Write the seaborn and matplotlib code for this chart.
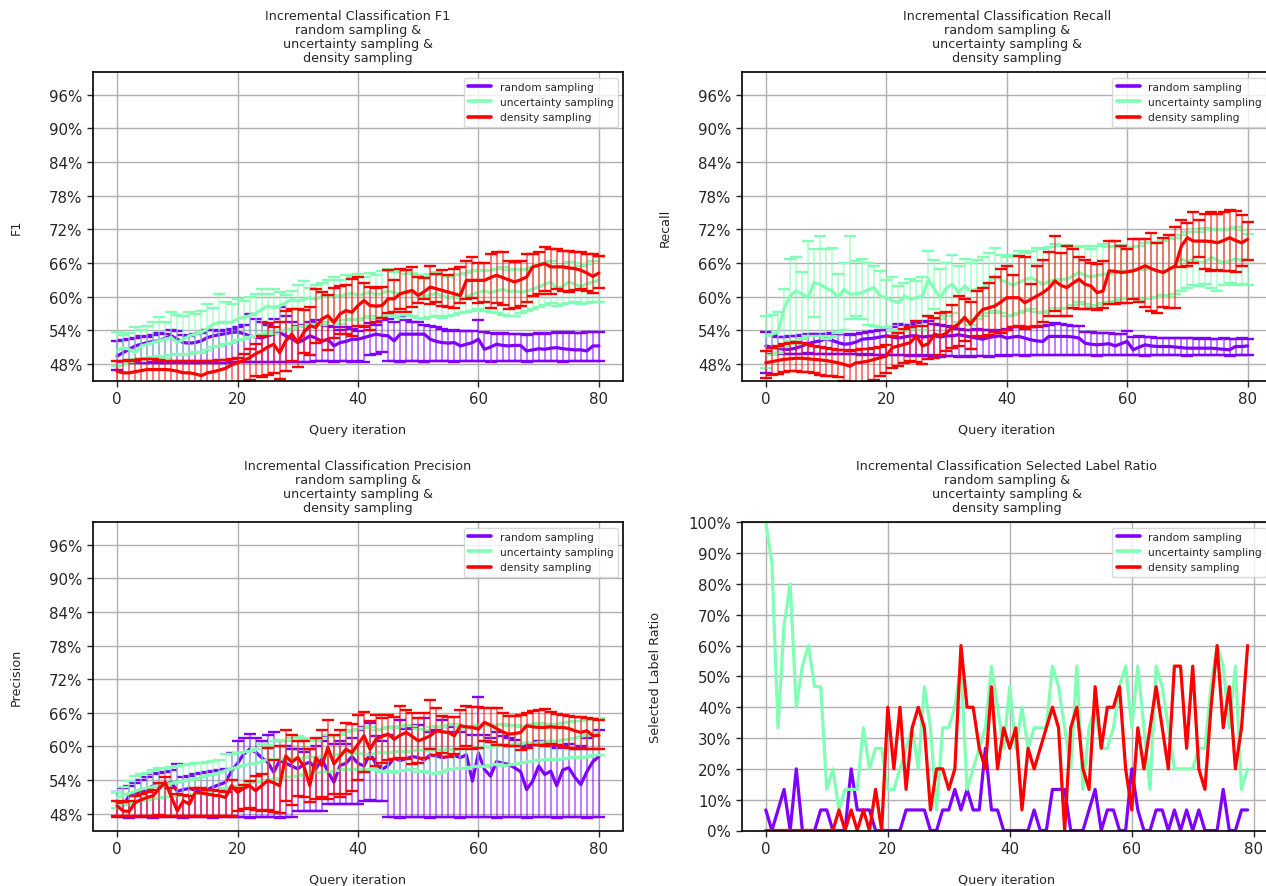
import numpy as np
import pandas as pd
import matplotlib
matplotlib.use("Agg")
import matplotlib.pyplot as plt
from matplotlib.ticker import PercentFormatter, MultipleLocator, FixedLocator
import seaborn as sns

# ---------------------------------------------------------------- data
strategies = ["random sampling", "uncertainty sampling", "density sampling"]
iterations = list(range(81))

# F1 score per query iteration (percent): mean, min, max over runs
f1_random_mean = [49.4,50.0,50.6,51.2,51.5,51.8,52.0,52.1,52.6,53.0,52.4,51.8,51.7,51.8,52.1,52.7,53.0,53.2,53.4,53.6,53.7,
                  53.4,53.0,52.8,52.6,53.0,53.3,53.6,53.0,52.5,51.8,52.3,53.0,52.6,52.0,52.4,51.2,51.8,52.0,52.4,52.4,
                  52.7,53.0,53.3,53.1,53.0,52.1,53.3,53.3,53.3,53.3,53.3,52.4,52.0,51.8,51.7,51.8,51.2,51.5,51.8,52.4,
                  50.6,51.0,51.5,51.3,51.2,51.3,51.3,50.3,50.5,50.7,50.6,50.8,50.9,50.7,50.6,50.5,50.5,50.3,51.2,51.2]
f1_random_lo = [46.9,48.2,48.2,48.3,48.2,48.2,48.3,48.2,48.2,48.2,48.3,48.2,48.2,48.2,48.2,48.3,48.2,48.2,48.2,48.3,48.3,
                48.3,48.4,48.3,48.4,48.3,48.4,48.4,48.3,48.4,48.4,48.4,48.4,48.5,48.5,48.5,48.4,48.5,48.5,48.4,48.5,
                48.4,49.6,49.8,50.1,48.5,48.5,48.4,48.5,48.5,48.5,48.4,48.5,48.5,48.5,48.5,48.4,48.5,48.5,48.5,48.5,
                48.5,48.4,48.5,48.5,48.5,48.5,48.5,48.4,48.5,48.5,48.5,48.5,48.5,48.4,48.5,48.5,48.5,48.5,48.5,48.5]
f1_random_hi = [52.0,52.2,52.5,52.7,53.0,52.8,53.2,53.5,53.4,54.1,53.8,53.2,53.0,53.3,53.5,54.0,54.0,53.9,54.0,54.2,54.5,
                55.0,56.9,56.0,55.5,55.0,56.0,58.2,56.5,55.5,54.8,55.0,55.5,55.8,55.0,54.8,54.5,54.0,54.5,54.2,53.9,
                54.5,55.3,55.0,55.8,56.0,55.5,56.5,55.8,55.4,55.4,55.0,54.8,54.5,54.2,53.9,54.0,53.9,53.8,53.9,55.9,
                53.6,53.5,53.4,53.5,53.3,53.4,53.3,53.2,53.4,53.5,53.4,53.5,53.6,53.5,53.6,53.5,53.5,53.6,53.7,53.7]

f1_uncert_mean = [50.3,50.9,50.6,50.0,51.2,51.5,51.8,52.1,52.4,52.7,51.8,52.4,53.0,53.3,53.6,54.3,55.1,55.4,55.4,55.4,56.0,
                  56.3,56.6,57.0,57.7,58.3,58.0,58.3,58.9,59.5,59.2,59.5,59.8,59.5,60.1,59.9,60.3,60.0,60.4,60.6,60.2,
                  60.5,60.8,60.3,60.6,61.0,60.7,60.4,60.9,60.6,60.3,60.0,60.3,60.6,60.1,59.8,60.0,59.7,60.0,60.4,60.8,
                  61.0,60.7,61.0,61.3,60.9,61.0,60.8,61.0,61.3,61.7,62.2,62.6,61.4,61.8,62.6,62.2,61.8,62.3,62.6,62.9]
f1_uncert_lo = [47.6,48.0,48.3,48.8,48.5,49.0,49.2,49.4,49.0,49.5,49.8,49.5,49.8,50.2,50.0,50.5,51.0,51.2,51.5,51.8,52.3,
                52.5,52.8,53.0,53.3,53.6,53.4,53.8,54.0,54.3,54.6,54.8,55.0,55.2,55.0,55.4,55.6,55.2,55.8,56.0,55.8,
                56.2,56.5,56.0,56.4,56.8,56.5,56.2,56.8,56.5,56.2,56.0,56.3,56.5,56.2,56.6,56.8,57.0,57.3,57.5,57.8,
                57.5,57.2,57.0,56.8,56.6,56.6,57.0,57.4,57.8,58.2,58.5,58.8,58.4,58.6,58.8,59.0,58.7,58.9,59.0,59.1]
f1_uncert_hi = [53.6,53.2,53.5,54.5,54.0,54.8,55.5,56.3,55.5,57.2,56.8,56.5,57.2,56.9,57.5,58.6,58.0,60.4,59.0,58.6,59.5,
                59.3,60.0,60.5,61.3,60.5,61.3,60.8,60.2,61.0,62.0,62.8,61.5,62.0,62.5,63.0,63.5,63.0,63.8,63.5,64.0,
                63.5,64.2,63.8,64.5,64.9,64.3,64.6,64.0,64.2,63.8,63.5,64.0,64.3,63.8,63.5,63.8,64.0,64.2,64.5,64.8,
                64.5,64.8,65.0,65.2,64.8,65.0,64.7,65.0,65.3,65.8,66.0,66.4,65.2,65.5,66.2,66.0,65.5,65.9,66.3,67.0]

f1_density_mean = [46.7,46.4,46.4,46.6,46.8,47.0,47.0,47.0,47.0,46.9,46.7,46.4,46.4,46.2,45.9,46.4,46.6,46.9,47.2,47.8,48.2,
                   48.6,49.1,49.8,50.3,51.0,51.5,50.0,52.1,53.3,51.8,53.6,54.8,54.5,56.0,56.6,55.4,56.9,57.5,57.2,58.4,
                   59.3,58.4,58.3,58.4,59.6,59.6,60.5,60.8,61.1,60.2,60.9,61.7,61.4,61.1,60.8,60.5,60.2,62.9,62.9,62.9,
                   62.9,63.4,63.8,63.4,63.0,62.6,63.0,63.5,65.3,65.6,65.9,65.3,65.3,65.3,65.1,65.0,64.7,64.2,63.6,64.2]
f1_density_lo = [43.5,43.0,43.2,43.5,43.8,44.0,43.8,43.5,43.6,43.5,43.2,43.0,43.0,42.8,42.5,43.0,43.2,43.5,43.8,44.2,44.5,
                 44.8,45.2,45.8,45.6,46.0,46.4,45.3,46.8,48.5,47.4,50.0,49.6,51.8,52.3,50.4,52.6,53.3,53.4,52.9,54.8,
                 54.8,54.0,55.4,56.1,57.0,57.3,57.7,57.2,58.2,58.8,59.5,58.6,59.0,58.3,58.1,58.0,58.8,59.5,59.8,58.9,
                 59.0,58.0,58.9,58.5,57.7,58.0,58.3,59.0,60.1,60.5,61.0,60.5,61.3,61.0,60.8,61.2,61.3,61.0,60.7,61.6]
f1_density_hi = [48.6,48.6,48.7,48.6,48.8,48.9,48.8,48.7,48.6,48.6,48.6,48.5,48.6,48.6,48.5,48.6,48.6,48.7,48.7,48.8,49.0,
                 49.8,50.6,51.6,53.0,55.3,54.5,55.5,57.5,57.8,57.8,57.6,58.2,61.3,60.8,60.2,61.5,61.8,62.0,63.2,63.5,
                 62.5,61.7,61.5,61.7,64.7,63.0,64.9,64.7,65.3,63.5,63.3,65.5,64.0,64.7,63.8,65.0,65.3,66.4,67.0,66.0,
                 66.0,67.6,67.9,68.0,66.4,66.1,66.4,67.6,67.6,67.9,68.8,68.5,68.5,68.2,68.2,67.9,67.9,67.6,67.6,67.3]

# Recall per query iteration (percent)
rec_random_mean = [51.2,51.0,50.8,50.6,50.6,50.8,51.2,51.6,51.9,52.1,52.5,52.2,51.8,51.5,51.6,51.9,52.4,52.5,52.6,52.8,53.0,
                   52.8,52.6,52.8,53.0,53.0,52.8,52.9,53.0,52.8,53.0,53.0,53.2,53.0,52.8,52.6,52.4,52.7,52.9,53.0,52.6,
                   52.8,52.9,52.6,52.3,52.1,52.0,52.9,52.9,52.9,52.9,52.8,52.6,51.7,51.5,51.4,51.5,51.6,51.2,51.6,52.0,
                   50.5,51.0,51.4,51.2,51.1,51.1,51.1,51.0,50.9,50.8,50.8,50.8,50.8,50.8,50.7,50.6,50.5,51.1,51.1,51.2]
rec_random_lo = [46.4,49.8,49.9,49.8,49.7,49.8,49.8,49.9,49.8,49.7,49.8,49.8,49.7,49.8,49.8,49.7,49.6,49.7,49.6,49.6,49.5,
                 49.5,49.6,49.5,49.4,49.5,49.4,49.5,49.4,49.3,49.4,49.4,49.3,49.4,49.3,49.4,49.4,49.3,49.4,49.5,49.4,
                 49.5,49.5,49.4,49.5,49.5,49.6,49.5,49.5,49.5,49.6,49.5,49.5,49.5,49.5,49.4,49.5,49.5,49.5,49.5,49.5,
                 49.5,49.5,49.4,49.5,49.5,49.5,49.5,49.5,49.5,49.4,49.5,49.5,49.5,49.5,49.5,49.5,49.4,49.5,49.5,49.5]
rec_random_hi = [53.6,53.2,52.8,52.8,52.9,53.0,53.1,53.3,53.3,53.4,53.3,53.5,53.4,53.3,53.2,53.3,53.5,53.6,53.8,54.0,54.0,
                 54.5,55.1,55.0,55.0,55.3,55.4,55.7,55.2,55.0,54.8,54.5,54.3,54.0,54.0,54.2,54.0,54.0,53.8,54.0,54.2,
                 54.5,54.5,54.6,54.5,54.6,54.8,55.0,55.3,55.1,55.0,54.7,54.7,53.6,53.6,53.5,53.5,53.5,53.4,53.4,53.8,
                 52.8,52.9,52.8,52.8,52.7,52.7,52.6,52.6,52.7,52.6,52.6,52.5,52.6,52.5,52.5,52.6,52.5,52.5,52.6,52.5]

rec_uncert_mean = [53.0,53.3,53.6,57.7,60.1,61.0,60.5,59.8,62.5,62.2,61.5,61.0,59.9,61.3,60.4,60.5,60.7,61.2,61.6,60.1,59.8,
                   59.3,58.9,60.1,59.5,59.8,60.1,63.1,61.3,59.8,61.6,62.2,60.7,61.9,61.0,61.3,61.5,62.5,63.7,63.0,62.5,
                   62.0,62.5,63.0,63.4,62.8,62.2,62.7,63.0,63.1,63.1,63.7,64.3,63.8,63.5,63.8,64.0,64.0,64.3,64.6,64.6,
                   64.6,64.8,64.9,64.9,64.6,64.3,64.8,65.5,66.7,66.2,66.7,66.0,66.3,67.0,66.5,66.0,66.4,66.7,66.5,66.7]
rec_uncert_lo = [47.3,49.5,50.0,51.0,52.1,51.5,52.5,53.0,56.3,53.0,52.5,52.8,53.5,54.0,56.0,56.6,56.0,55.0,54.8,54.5,54.5,
                 54.0,53.5,53.8,54.2,54.5,54.0,56.5,57.8,56.0,56.5,57.0,55.5,55.8,55.0,56.0,56.5,57.0,57.5,57.0,56.5,
                 56.8,57.0,57.5,57.8,57.2,57.0,57.5,58.0,57.8,58.0,58.5,59.0,58.6,58.2,58.5,58.8,59.0,59.2,59.5,59.8,
                 59.5,59.2,59.5,59.8,60.0,60.2,60.0,60.5,61.0,61.5,62.0,61.8,62.2,61.5,61.0,62.0,62.5,62.0,62.3,62.0]
rec_uncert_hi = [56.6,56.8,57.2,61.3,66.7,67.0,64.3,69.9,68.5,70.8,68.4,68.7,64.0,66.0,70.8,66.4,66.7,66.0,65.5,64.5,63.0,
                 63.5,61.9,62.5,63.1,62.8,63.5,68.1,66.5,65.0,66.0,67.5,65.5,66.7,66.0,66.5,67.0,67.8,68.7,67.5,67.0,
                 67.5,68.1,67.8,68.2,68.7,68.5,68.8,69.4,69.0,69.2,69.0,68.8,69.1,68.5,69.0,69.3,68.8,69.0,69.2,68.8,
                 68.8,69.0,69.5,69.8,69.5,70.0,70.2,70.5,71.0,71.5,72.0,71.5,72.3,71.8,72.1,71.8,72.1,72.4,71.8,71.2]

rec_density_mean = [48.2,48.4,48.6,48.8,48.9,49.0,49.0,48.9,48.8,48.7,48.6,48.4,48.2,47.9,47.6,48.2,48.3,48.5,48.8,49.1,49.4,
                    50.9,51.2,51.5,51.8,53.0,51.2,51.6,53.3,53.0,53.5,54.5,55.1,56.3,55.1,56.5,57.7,58.0,58.3,59.0,59.8,
                    59.8,59.8,58.9,59.5,60.1,60.7,61.5,62.8,62.0,61.6,62.4,63.1,62.2,61.9,60.7,61.0,64.6,64.5,64.3,64.4,
                    64.6,65.0,65.5,65.0,64.6,64.3,64.9,65.5,69.0,70.5,69.9,69.9,69.9,69.8,69.6,70.0,70.5,70.0,69.6,70.2]
rec_density_lo = [45.5,46.0,46.2,46.5,46.7,46.8,46.6,46.5,46.3,46.0,45.8,45.9,45.6,45.0,44.8,44.5,44.6,44.8,45.2,45.8,46.4,
                  47.3,47.6,48.2,48.5,48.4,47.9,48.8,49.0,49.5,50.3,50.8,51.2,52.1,50.6,53.0,52.8,53.2,53.6,53.5,54.1,
                  54.5,54.7,54.3,54.6,54.8,55.5,56.5,57.4,56.5,56.5,58.0,57.8,57.8,57.7,57.6,57.9,58.6,58.6,58.9,58.9,
                  59.6,59.0,58.2,57.5,57.1,58.2,58.0,58.0,65.2,65.5,66.0,67.0,64.9,64.6,64.8,64.6,64.6,64.3,65.5,66.5]
rec_density_hi = [50.3,50.8,51.2,51.5,51.8,51.9,51.8,51.5,51.2,51.0,50.8,50.6,50.5,50.4,50.3,50.5,50.6,50.7,50.8,51.0,51.3,
                  53.0,53.5,54.2,54.5,55.7,54.8,56.6,56.2,57.0,57.2,58.5,60.1,59.5,59.0,61.0,61.5,62.5,63.5,64.9,65.5,
                  63.8,67.3,67.0,62.2,65.4,66.5,68.0,70.8,67.8,69.0,68.4,67.0,66.5,66.0,65.8,66.4,69.9,70.0,69.0,68.5,
                  70.3,70.2,70.3,71.4,69.5,70.5,71.0,72.4,73.7,73.2,75.0,73.6,74.8,75.0,74.7,75.0,75.4,75.3,74.6,73.3]

# Precision per query iteration (percent)
prec_random_mean = [50.0,49.5,51.2,51.8,52.1,52.4,53.0,52.8,53.2,53.6,52.0,52.3,52.5,52.2,52.0,52.3,52.8,53.2,53.6,55.6,57.0,
                    58.6,59.5,59.0,58.0,57.2,55.4,57.5,57.0,56.5,56.0,56.8,57.2,56.0,57.8,55.5,53.6,56.6,57.0,58.2,57.0,
                    56.5,58.8,56.8,55.9,56.6,57.9,57.5,57.8,58.2,58.0,57.6,58.5,58.3,58.0,58.2,58.4,58.0,58.5,53.8,58.8,
                    55.9,54.7,57.3,57.0,56.8,56.2,55.5,52.3,53.8,56.5,55.0,55.6,53.0,55.8,56.2,54.5,53.2,55.5,57.3,58.2]
prec_random_lo = [47.4,47.4,47.3,47.4,47.4,47.4,47.3,47.4,47.4,47.4,47.4,47.3,47.4,47.4,47.4,47.4,47.3,47.4,47.4,47.4,47.4,
                  47.4,47.3,47.4,47.4,47.4,47.4,47.3,47.4,47.4,48.5,48.5,48.4,48.5,48.5,49.8,49.8,49.7,49.8,49.8,49.8,
                  50.3,50.4,50.2,50.3,47.4,47.4,47.3,47.4,47.4,47.4,47.4,47.3,47.4,47.4,47.4,47.4,47.3,47.4,47.4,47.4,
                  47.4,47.4,47.3,47.4,47.4,47.4,47.4,47.3,47.4,47.4,47.4,47.4,47.3,47.4,47.4,47.4,47.4,47.3,47.4,47.4]
prec_random_hi = [51.8,52.5,53.0,53.5,54.0,54.5,55.0,55.3,55.5,55.8,56.9,54.5,54.8,55.0,55.2,55.4,55.6,55.8,56.0,58.9,61.0,
                  61.5,62.2,61.5,61.0,62.0,62.5,61.0,60.0,59.5,59.5,59.0,59.5,60.0,61.0,61.9,60.5,61.0,60.5,61.5,63.0,
                  63.5,64.2,61.8,61.0,62.0,63.5,64.8,63.2,63.5,63.8,65.1,62.5,63.0,64.8,63.5,62.5,62.5,63.5,62.0,68.8,
                  62.0,61.5,62.5,61.8,61.5,61.2,60.5,60.0,60.5,61.0,60.5,60.0,59.8,60.2,60.5,59.5,60.0,61.5,62.0,63.0]

prec_uncert_mean = [50.9,51.3,51.6,52.0,52.4,52.6,52.8,53.0,53.2,53.4,53.6,53.8,54.0,54.2,54.5,54.8,55.0,55.3,55.7,56.0,56.3,
                    56.6,56.8,57.0,57.3,57.7,57.6,57.8,57.7,58.0,57.8,58.0,58.2,58.0,58.2,58.3,58.5,58.6,58.9,58.7,58.8,
                    58.6,58.5,58.8,59.0,58.8,59.0,59.2,59.0,59.2,59.4,59.3,59.2,59.5,59.3,59.5,59.4,59.6,59.5,59.7,59.7,
                    60.0,59.8,60.1,60.3,60.2,60.5,60.4,60.7,60.5,60.7,60.8,61.0,60.9,61.2,61.3,61.5,61.8,62.0,62.2,62.5]
prec_uncert_lo = [49.1,49.5,49.8,50.0,50.3,50.5,50.6,50.8,50.9,51.0,51.1,51.2,51.3,51.5,51.6,51.8,52.0,52.2,52.5,52.8,53.0,
                  53.2,53.4,53.6,53.8,54.0,54.2,54.3,54.5,54.6,54.8,55.0,55.2,55.3,55.5,55.4,55.6,55.8,56.0,55.8,56.0,
                  55.8,56.0,55.8,55.5,55.6,55.3,55.6,55.8,55.9,55.5,55.6,55.3,55.0,55.4,55.8,56.0,56.2,56.0,56.3,56.5,
                  56.4,56.6,56.8,56.5,56.7,56.9,57.0,57.2,57.4,57.5,57.6,57.8,57.5,57.7,58.0,58.2,58.0,58.2,58.4,58.4]
prec_uncert_hi = [51.8,52.8,53.8,54.7,55.0,55.3,55.8,56.2,56.0,56.3,56.5,56.7,56.8,57.0,57.1,57.2,57.4,57.5,58.6,58.7,58.8,
                  59.0,59.2,59.5,60.4,60.2,61.0,61.2,61.0,61.5,61.8,61.5,61.3,61.0,61.5,62.0,61.8,62.0,62.5,63.0,63.2,
                  63.3,63.5,63.0,63.2,63.5,63.3,63.5,63.8,63.6,63.2,63.0,63.4,63.6,63.5,63.8,64.0,63.5,63.2,63.5,63.8,
                  64.0,63.6,63.8,64.0,63.6,63.8,63.5,63.7,64.0,64.2,64.0,63.8,64.0,64.2,64.3,64.5,64.6,64.8,65.0,65.1]

prec_density_mean = [49.4,48.5,48.4,50.0,50.5,50.9,51.2,52.5,53.6,51.0,48.5,50.3,49.7,51.8,51.7,51.5,51.3,51.2,50.9,53.0,51.8,
                     52.5,53.0,52.1,53.0,53.9,53.5,53.0,58.3,57.2,58.0,56.5,53.0,58.0,56.6,59.8,56.9,58.2,59.5,58.9,60.4,
                     61.9,59.5,61.3,61.8,62.2,61.3,62.0,62.5,61.8,61.0,61.4,61.9,62.8,62.6,62.5,61.9,63.7,63.5,63.4,63.1,
                     64.3,63.8,63.2,62.6,62.2,62.3,62.5,63.7,63.5,63.4,63.4,63.5,63.4,63.4,63.2,62.8,62.5,62.8,61.9,62.0]
prec_density_lo = [47.6,47.5,47.6,47.6,47.5,47.6,47.6,47.7,47.6,47.5,47.5,47.5,47.5,47.5,47.6,47.6,47.6,47.5,47.5,47.6,48.5,
                   48.8,49.0,48.6,48.5,48.7,48.3,48.2,50.3,49.5,51.2,50.9,50.0,50.6,51.0,50.6,51.5,51.0,51.5,52.0,54.1,
                   55.4,57.7,56.5,57.0,57.5,57.7,58.0,57.7,56.8,57.0,58.0,59.5,58.4,58.8,58.2,58.6,59.5,60.0,59.5,59.8,
                   60.9,60.8,60.2,60.3,60.0,60.0,59.4,59.8,60.2,60.3,60.0,60.5,60.3,59.9,59.8,59.6,59.8,59.6,59.5,59.6]
prec_density_hi = [50.3,50.0,50.3,51.2,51.5,51.8,52.2,53.5,54.5,52.5,51.5,51.3,51.2,52.5,52.5,52.3,52.2,52.0,51.8,54.0,52.6,
                   53.2,53.8,54.7,55.1,59.8,57.5,60.0,63.0,62.0,61.0,61.0,59.5,61.5,63.0,64.8,62.0,63.0,64.2,64.0,65.7,
                   66.2,64.5,65.6,65.0,65.6,65.2,67.2,66.5,66.0,65.1,66.0,68.2,66.8,65.4,65.2,65.2,66.5,67.2,67.0,67.0,
                   66.8,66.8,66.9,66.0,65.4,65.5,65.6,66.0,66.4,66.5,66.6,66.2,65.8,65.6,65.4,65.2,65.2,65.1,64.9,64.8]

# Selected label ratio: positive labels picked out of each batch of 15 queries
batch_size = 15
ratio_iterations = list(range(80))
sel_random = [1,0,1,2,0,3,0,0,0,1, 1,0,0,0,3,1,1,1,0,0, 0,0,0,1,1,1,1,0,0,1, 1,2,1,2,1,1,4,1,1,0,
              0,0,0,0,1,0,0,2,2,2, 0,0,0,1,2,0,1,1,0,0, 3,1,0,0,1,1,0,1,0,1, 0,1,0,0,0,2,0,0,1,1]
sel_uncert = [15,13,5,10,12,6,8,9,7,7, 2,3,1,2,2,2,5,3,4,4, 2,2,3,4,5,3,7,5,1,5, 5,6,8,2,3,4,5,8,6,4,
              7,4,6,4,5,5,5,8,7,5, 3,8,2,5,6,4,4,5,7,8, 5,8,5,2,8,7,5,3,3,3, 3,4,4,7,9,8,5,8,2,3]
sel_density = [0,0,0,0,0,0,0,0,0,0, 0,0,1,0,1,0,1,0,2,0, 6,3,6,2,5,6,5,1,3,3, 2,3,9,6,6,4,3,7,3,5,
               4,5,1,4,3,4,5,6,5,0, 5,6,3,2,7,4,6,6,7,3, 1,5,3,5,7,5,3,8,8,4, 8,3,2,6,9,5,7,3,5,9]

# ---------------------------------------------------------------- style
colors = [tuple(c) for c in plt.cm.rainbow(np.linspace(0, 1, 3))]
sns.set_style("ticks")
plt.rcParams["font.family"] = ["DejaVu Sans"]

W, H = 1266, 887
fig = plt.figure(figsize=(W / 100, H / 100), dpi=100)


def axes_at(left, top, width, height):
    return fig.add_axes([left / W, 1 - (top + height) / H, width / W, height / H])


ax_f1 = axes_at(93, 73.3, 530, 308.4)
ax_rec = axes_at(741.7, 73.3, 530, 308.4)
ax_prec = axes_at(93, 523.3, 530, 308.2)
ax_ratio = axes_at(741.7, 523.3, 530, 308.2)

subtitle = "\nrandom sampling &\nuncertainty sampling &\ndensity sampling"


def finish(ax, title, ylabel):
    ax.set_title("Incremental Classification " + title + subtitle, fontsize=9.2,
                 linespacing=1.1, pad=8.2)
    ax.set_xlabel("Query iteration", fontsize=9.2, labelpad=12)
    ax.set_ylabel(ylabel, fontsize=9.2, labelpad=19)
    ax.grid(True, color="#b0b0b0", linewidth=1.0)
    ax.set_axisbelow(True)
    ax.tick_params(axis="both", labelsize=10.8, direction="out", length=4, width=1)
    ax.xaxis.set_major_locator(MultipleLocator(20))
    for sp in ax.spines.values():
        sp.set_visible(True)
        sp.set_color("black")
        sp.set_linewidth(1.2)
    leg = ax.legend(loc="upper right", fontsize=7.65, framealpha=0.8, edgecolor="#d0d0d0",
                    fancybox=True, handlelength=2.2)
    for h in leg.get_lines():
        h.set_linewidth(2.6)


def metric_panel(ax, title, ylabel, series):
    for name, color, (mean, lo, hi) in zip(strategies, colors, series):
        m = np.asarray(mean) / 100
        l = np.asarray(lo) / 100
        h = np.asarray(hi) / 100
        eb = ax.errorbar(iterations, m, yerr=[m - l, h - m], fmt="none", ecolor=color,
                         elinewidth=1.5, capsize=4, capthick=1.7)
        for bars in eb[2]:
            bars.set_alpha(0.5)
        df = pd.DataFrame({"iteration": iterations, "value": m})
        sns.lineplot(data=df, x="iteration", y="value", color=color, linewidth=2.3,
                     label=name, ax=ax)
    ax.set_ylim(0.45, 1.0)
    ax.yaxis.set_major_locator(FixedLocator(np.arange(0.48, 0.99, 0.06)))
    ax.yaxis.set_major_formatter(PercentFormatter(1.0, decimals=0))
    ax.set_xlim(-4, 84)
    finish(ax, title, ylabel)


metric_panel(ax_f1, "F1", "F1", [
    (f1_random_mean, f1_random_lo, f1_random_hi),
    (f1_uncert_mean, f1_uncert_lo, f1_uncert_hi),
    (f1_density_mean, f1_density_lo, f1_density_hi)])
metric_panel(ax_rec, "Recall", "Recall", [
    (rec_random_mean, rec_random_lo, rec_random_hi),
    (rec_uncert_mean, rec_uncert_lo, rec_uncert_hi),
    (rec_density_mean, rec_density_lo, rec_density_hi)])
metric_panel(ax_prec, "Precision", "Precision", [
    (prec_random_mean, prec_random_lo, prec_random_hi),
    (prec_uncert_mean, prec_uncert_lo, prec_uncert_hi),
    (prec_density_mean, prec_density_lo, prec_density_hi)])

ratio_df = pd.DataFrame({
    "iteration": ratio_iterations * 3,
    "ratio": np.concatenate([sel_random, sel_uncert, sel_density]) / batch_size,
    "strategy": np.repeat(strategies, len(ratio_iterations)),
})
sns.lineplot(data=ratio_df, x="iteration", y="ratio", hue="strategy", hue_order=strategies,
             palette=colors, linewidth=2.3, ax=ax_ratio)
ax_ratio.set_ylim(0, 1.0)
ax_ratio.margins(x=0.05)
ax_ratio.yaxis.set_major_locator(MultipleLocator(0.1))
ax_ratio.yaxis.set_major_formatter(PercentFormatter(1.0, decimals=0))
finish(ax_ratio, "Selected Label Ratio", "Selected Label Ratio")

fig.savefig("out.png", dpi=100)
